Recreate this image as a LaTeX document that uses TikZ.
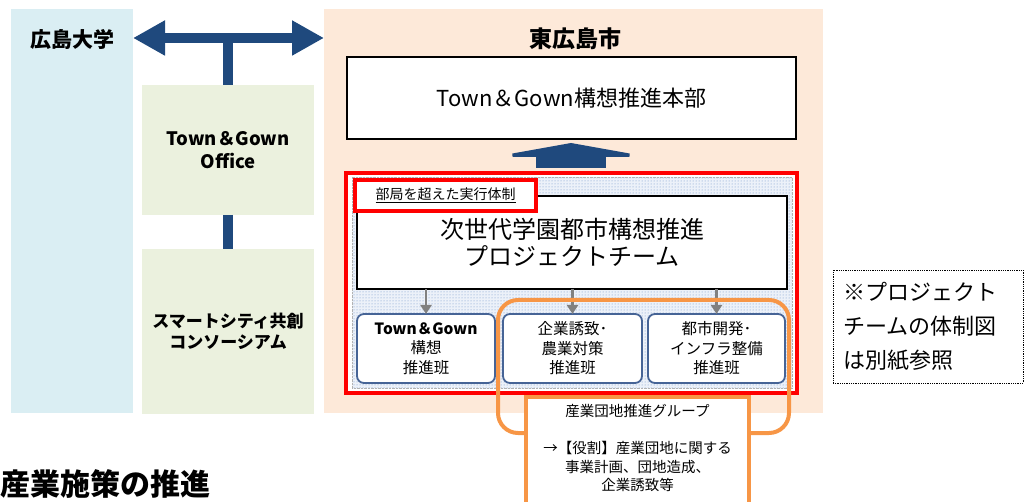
\documentclass[tikz,border=0pt]{standalone}
\usepackage{fontspec}
\setmainfont{Noto Sans CJK JP}
\usetikzlibrary{positioning, arrows.meta, patterns}

\definecolor{unibg}{HTML}{DAEEF3}
\definecolor{citybg}{HTML}{FDE9D9}
\definecolor{officebg}{HTML}{EBF1DE}
\definecolor{navy}{RGB}{31,73,125}
\definecolor{teamred}{HTML}{FF0000}
\definecolor{grporange}{HTML}{F79646}
\definecolor{hanblue}{RGB}{70,100,150}
\definecolor{dotblue}{RGB}{110,145,200}
\definecolor{dottint}{RGB}{236,241,249}

\newcommand{\fs}[1]{\fontsize{#1}{#1}\selectfont}

\begin{document}
\begin{tikzpicture}[x=1pt,y=-1pt,
    panel/.style={inner sep=0pt, outer sep=0pt},
    greenbox/.style={panel, fill=officebg, minimum width=172pt, align=center},
    whitebox/.style={panel, draw=black, line width=1.3pt, fill=white, align=center},
    hanbox/.style={panel, draw=hanblue, line width=1.8pt, fill=white, rounded corners=7pt,
        minimum height=69pt, align=center, font=\fs{15.5}},
    bigarrow/.style={navy, line width=10pt,
        {Triangle[width=33pt,length=32pt]}-{Triangle[width=33pt,length=32pt]}},
    stem/.style={navy, line width=10pt},
    grayarrow/.style={draw=gray, line width=2.2pt, -{Triangle[width=11pt,length=9pt]}}
    ]
    \useasboundingbox (0,0) rectangle (1025,502);

    % background panels
    \node[panel, fill=unibg, minimum width=122pt, minimum height=404pt] (uni) at (72,211) {};
    \node[panel, fill=citybg, minimum width=499pt, minimum height=404pt] (city) at (573.5,211) {};
    \node[font=\bfseries\fs{21}] (unititle) at (72,39) {広島大学};
    \node[font=\bfseries\fs{23}] (citytitle) at (575,39) {東広島市};

    % left side
    \node[greenbox, minimum height=130pt, font=\bfseries\fs{18.5}] (office) at (228,150)
        {Town＆Gown\\[4pt]Office};
    \node[greenbox, minimum height=165pt, font=\bfseries\fs{17}] (consort) at (228,331.5)
        {スマートシティ共創\\[4pt]コンソーシアム};
    \coordinate (jl) at (133,38);
    \coordinate (jr) at (324,38);
    \coordinate (jm) at (228,38);
    \draw[stem] (jm) -- (office.north);
    \draw[stem] (office.south) -- (consort.north);
    \draw[bigarrow] (jl) -- (jr);

    % city side
    \node[whitebox, minimum width=449pt, minimum height=82pt, font=\fs{22}] (hq) at (571.5,98)
        {Town＆Gown構想推進本部};
    \node[panel, draw=teamred, line width=4pt, fill=white, minimum width=451pt, minimum height=220pt]
        (team) at (571.5,283) {};
    \fill[dottint] (352,177) rectangle (792,388);
    \path[pattern=dots, pattern color=dotblue, draw=gray!60, densely dotted, thin]
        (352,177) rectangle (792,388);
    \draw[navy, line width=70pt, -{Triangle[width=156pt,length=14pt]}] (571,168) -- (571,143);

    \node[whitebox, minimum width=430pt, minimum height=93pt, font=\fs{24}] (pt) at (572,242.5)
        {次世代学園都市構想推進\\[3pt]プロジェクトチーム};
    \node[panel, draw=teamred, line width=4pt, fill=white, minimum width=181pt, minimum height=31pt,
        font=\fs{14}] (tag) at (445.5,195.5) {\underline{部局を超えた実行体制}};

    \node[hanbox, minimum width=138pt] (b1) at (426,348.5)
        {{\bfseries Town＆Gown}\\[4pt]構想\\[4pt]推進班};
    \node[hanbox, minimum width=139pt] (b2) at (572.5,348.5)
        {企業誘致･\\[4pt]農業対策\\[4pt]推進班};
    \node[hanbox, minimum width=137pt] (b3) at (716.5,348.5)
        {都市開発･\\[4pt]インフラ整備\\[4pt]推進班};
    \foreach \b in {b1,b2,b3}
        \draw[grayarrow] (pt.south -| \b.north) -- (\b.north);

    % industrial park group
    \draw[grporange, line width=4pt, rounded corners=20pt] (498,300) rectangle (789,433);
    \node[panel, draw=grporange, line width=4pt, fill=white, minimum width=223pt, minimum height=109pt]
        (grp) at (637.5,451.5) {};
    \node[align=center, font=\fs{14.5}] (grptext) at (637.5,448)
        {産業団地推進グループ\\[4pt]~\\[4pt]→【役割】産業団地に関する\\[4pt]事業計画、団地造成、\\[4pt]企業誘致等};

    % note
    \node[panel, draw=black, densely dotted, line width=0.8pt, minimum width=190pt, minimum height=113pt]
        (note) at (928,326.5) {};
    \node[align=left, font=\fs{22}, anchor=west] (notetext) at (840,326)
        {※プロジェクト\\[12pt]チームの体制図\\[12pt]は別紙参照};

    \node[anchor=west, font=\bfseries\fs{30}] (caption) at (-3,484) {産業施策の推進};
\end{tikzpicture}
\end{document}
